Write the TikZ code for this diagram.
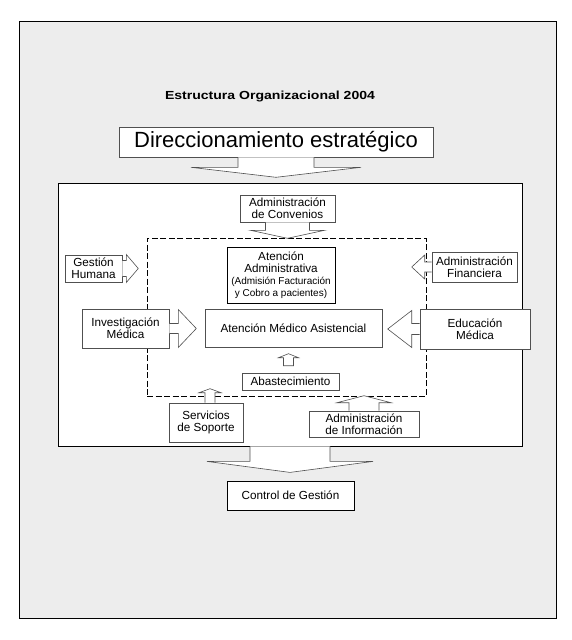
\documentclass[tikz,border=0pt]{standalone}
\usepackage{fontspec}
\setmainfont{Liberation Sans}
\definecolor{pagegray}{HTML}{EDEDED}
\definecolor{edgegray}{HTML}{505050}

\begin{document}
\begin{tikzpicture}[x=1pt,y=-1pt]
\tikzstyle{every node}+=[inner sep=0pt, align=center, font=\fontsize{11.7}{12}\selectfont]
\tikzstyle{box}=[draw=edgegray, fill=white, line width=0.6pt, rectangle]
\tikzstyle{blk}=[draw=edgegray, fill=white, line width=0.6pt, line join=miter]
\useasboundingbox (0,0) rectangle (572,640);
\draw [black, fill=pagegray, line width=1pt] (19,21) rectangle (556,618);
\node [draw=black, fill=white, line width=0.8pt, minimum width=464, minimum height=263] (main) at (290,314.5) {};
\node [draw=black, dash pattern=on 6pt off 2.5pt, line width=0.7pt, minimum width=279, minimum height=158] (core) at (286.5,317) {};
\node (title) at (270,96) {\scalebox{1.2}[1]{\bfseries Estructura Organizacional 2004}};
\node [box, minimum width=314, minimum height=30, font=\fontsize{22}{22}\selectfont] (dir) at (276,142) {Direccionamiento estratégico};
\node [box, minimum width=95, minimum height=27] (conv) at (287.5,208.5) {Administración\\de Convenios};
\node [box, draw=black, minimum width=108, minimum height=56] (aadm) at (281,275) {Atención\\Administrativa\\{\fontsize{10}{11}\selectfont(Admisión Facturación}\\{\fontsize{10}{11}\selectfont y Cobro a pacientes)}};
\node [box, minimum width=57, minimum height=27] (ghum) at (93.5,268.5) {Gestión\\Humana};
\node [box, minimum width=85, minimum height=30] (afin) at (474.5,267) {Administración\\Financiera};
\node [box, minimum width=87, minimum height=39] (invm) at (125.5,328.5) {Investigación\\Médica};
\node [box, minimum width=177, minimum height=38] (amed) at (293.5,328) {Atención Médico Asistencial};
\node [box, minimum width=110, minimum height=40] (edum) at (475,329) {Educación\\Médica};
\node [box, minimum width=97, minimum height=17] (abas) at (290.5,381.5) {Abastecimiento};
\node [box, minimum width=74, minimum height=39] (serv) at (206,422.5) {Servicios\\de Soporte};
\node [box, minimum width=110, minimum height=26] (ainf) at (364,424) {Administración\\de Información};
\node [box, draw=black, minimum width=127, minimum height=29] (ctrl) at (290.5,495.5) {Control de Gestión};
\draw [blk] (dir.south) ++(-38,0) -- ++(0,10) -- ++(-47,0) -- ++(85,10) -- ++(85,-10) -- ++(-47,0) -- ++(0,-10);
\draw [blk] (conv.south) ++(-22,0) -- ++(0,8) -- ++(-15,0) -- ++(37,8) -- ++(37,-8) -- ++(-15,0) -- ++(0,-8);
\draw [blk] (ghum.east) ++(0,-8) -- ++(4,0) -- ++(0,-6) -- ++(12,14) -- ++(-12,14) -- ++(0,-6) -- ++(-4,0);
\draw [blk] (afin.west) ++(0,-5) -- ++(-7,0) -- ++(0,-7) -- ++(-13,12) -- ++(13,12) -- ++(0,-7) -- ++(7,0);
\draw [blk] (invm.east) ++(0,-5) -- ++(9,0) -- ++(0,-14) -- ++(18,19) -- ++(-18,19) -- ++(0,-14) -- ++(-9,0);
\draw [blk] (edum.west) ++(0,-5.5) -- ++(-8,0) -- ++(0,-13) -- ++(-24,18.5) -- ++(24,18.5) -- ++(0,-13) -- ++(8,0);
\draw [blk] (abas.north) ++(-7,-7) -- ++(0,-8) -- ++(-5,0) -- ++(10,-4) -- ++(10,4) -- ++(-5,0) -- ++(0,8) -- cycle;
\draw [blk] (serv.north) ++(-1,0) -- ++(0,-10) -- ++(-6,0) -- ++(11,-4) -- ++(11,4) -- ++(-6,0) -- ++(0,10);
\draw [blk] (ainf.north) ++(-15,0) -- ++(0,-8) -- ++(-12,0) -- ++(27,-7) -- ++(27,7) -- ++(-12,0) -- ++(0,8);
\draw [blk] (main.south) ++(-40,0) -- ++(0,15) -- ++(-43,0) -- ++(83,11) -- ++(83,-11) -- ++(-43,0) -- ++(0,-15);
\end{tikzpicture}
\end{document}
